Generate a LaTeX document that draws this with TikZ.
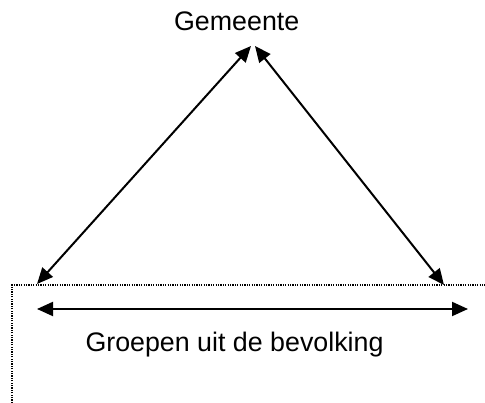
\documentclass[tikz,border=0pt]{standalone}
\usepackage{fontspec}
\setmainfont{Liberation Sans}
\usetikzlibrary{arrows.meta}
\begin{document}
\begin{tikzpicture}[x=1pt,y=1pt,
  lbl/.style={inner sep=0pt, anchor=base, font=\fontsize{26.8}{31}\selectfont},
  dbl/.style={line width=2pt, {Triangle[length=16pt,width=14pt]}-{Triangle[length=16pt,width=14pt]}},
  frame/.style={line width=1.2pt, dash pattern=on 1.2pt off 1.2pt}]
\useasboundingbox (0,0) rectangle (485,403);
\node[lbl] (gem) at (236.7,372) {Gemeente};
\node[lbl] (groep) at (234.5,51) {Groepen uit de bevolking};
\coordinate (topL) at (251,357);
\coordinate (topR) at (255,357);
\coordinate (botL) at (37,119);
\coordinate (botR) at (444,118);
\coordinate (hL) at (37,94);
\coordinate (hR) at (468,94);
\coordinate (fc) at (12,118);
\coordinate (fr) at (485,118);
\coordinate (fb) at (12,0);
\draw[frame] (fb) -- (fc) -- (fr);
\draw[dbl] (botL) -- (topL);
\draw[dbl] (topR) -- (botR);
\draw[dbl] (hL) -- (hR);
\end{tikzpicture}
\end{document}
